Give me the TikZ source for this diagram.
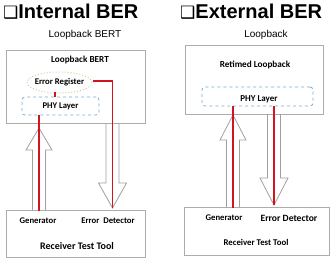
\documentclass[tikz,border=0pt]{standalone}
\usepackage{fontspec}
\setmainfont{Carlito}
\newfontfamily\headfont{Liberation Sans}
\newfontfamily\boxsym{DejaVu Sans}
\usepackage{tikz}
\usetikzlibrary{arrows.meta, positioning, shapes.geometric}

\definecolor{sigred}{RGB}{210,20,30}
\definecolor{phyblue}{RGB}{120,170,205}
\definecolor{regtan}{RGB}{215,200,160}

\begin{document}
\begin{tikzpicture}[
  x=1bp, y=-1bp,
  frame/.style={draw=gray!65, line width=0.8bp, inner sep=0pt},
  phy/.style={draw=phyblue, dashed, rounded corners=3bp, line width=0.8bp,
              inner sep=0pt},
  reg/.style={ellipse, draw=regtan, dotted, line width=1bp, inner sep=0pt,
              minimum width=65bp, minimum height=21bp},
  lbl/.style={font=\fontsize{8.7bp}{10bp}\selectfont\bfseries, inner sep=0pt},
  ttl/.style={font=\fontsize{9.2bp}{10bp}\selectfont\bfseries, inner sep=0pt},
  hdr/.style={font=\headfont\fontsize{10bp}{12bp}\selectfont, inner sep=0pt},
  big/.style={font=\headfont\fontsize{20bp}{22bp}\selectfont\bfseries,
              inner sep=0pt, anchor=base west},
  sig/.style={color=sigred, line width=1.9bp},
  fat/.style={draw=gray!75, line width=0.8bp, line join=miter},
]
  \useasboundingbox (0,0) rectangle (332,260);

  % Titles
  \node[big] (intttl) at (3,18)   {{\boxsym\fontsize{17bp}{20bp}\selectfont ❑}Internal BER};
  \node[big] (extttl) at (180,18) {{\boxsym\fontsize{17bp}{20bp}\selectfont ❑}External BER};

  % Internal BER
  \node[hdr] (inthdr) at (85,35) {Loopback BERT};
  \node[frame, minimum width=139bp, minimum height=73bp] (bert) at (75.5,86.5) {};
  \node[ttl] (bertttl) at (80,60) {Loopback BERT};
  \node[reg] (errreg) at (59.5,82.5) {};
  \node[lbl] at (errreg) {Error Register};
  \node[phy, minimum width=77bp, minimum height=18bp] (phyL) at (60.5,106) {};
  \node[lbl] at (phyL) {PHY Layer};
  \node[frame, minimum width=139bp, minimum height=47bp] (rttL) at (75.5,233.5) {};
  \node[lbl] (genL) at (38,221) {Generator};
  \node[lbl] (detL) at (108,221) {Error\ \ Detector};
  \node[ttl, font=\fontsize{10bp}{12bp}\selectfont\bfseries] (rttLttl) at (77,246)
        {Receiver Test Tool};

  \coordinate (gtipL) at (39,128);
  \coordinate (gtopL) at (39,115);
  \coordinate (gbotL) at (39,211);
  \coordinate (dtipL) at (112.5,208);
  \coordinate (regtop) at (55,92);
  \coordinate (regbot) at (55,97);
  \draw[fat] (32.5,210) -- (32.5,150) -- (26,150) -- (gtipL) -- (52,150)
             -- (45.5,150) -- (45.5,210);
  \draw[fat] (106,123) -- (106,183) -- (98.5,183) -- (dtipL) -- (126.5,183)
             -- (119,183) -- (119,123);

  \draw[sig] (gtopL) -- (gbotL);
  \draw[sig] ([yshift=1.5bp]errreg.east) -| (dtipL);
  \draw[sig, line width=1.5bp] (regtop) -- (regbot);

  % External BER
  \node[hdr] (exthdr) at (266,35) {Loopback};
  \node[frame, minimum width=138bp, minimum height=69bp] (loop) at (254,79.5) {};
  \node[ttl] (loopttl) at (255,65) {Retimed Loopback};
  \node[phy, minimum width=111bp, minimum height=19bp] (phyR) at (257.5,96.5) {};
  \node[lbl, font=\fontsize{9bp}{10bp}\selectfont\bfseries] at (259,99.5) {PHY Layer};
  \node[frame, minimum width=145bp, minimum height=48bp] (rttR) at (256.5,231) {};
  \node[lbl] (genR) at (224,218) {Generator};
  \node[lbl, font=\fontsize{9.6bp}{10bp}\selectfont\bfseries] (detR) at (289,218)
        {Error Detector};
  \node[lbl, font=\fontsize{8.8bp}{10bp}\selectfont\bfseries] (rttRttl) at (256,242)
        {Receiver Test Tool};

  \coordinate (gtipR) at (233,115);
  \coordinate (gtopR) at (233,106);
  \coordinate (gbotR) at (233,208);
  \coordinate (dtipR) at (274,205);
  \coordinate (dtopR) at (274,106);
  \draw[fat] (226.5,207) -- (226.5,140) -- (220,140) -- (gtipR) -- (246,140)
             -- (239.5,140) -- (239.5,207);
  \draw[fat] (267.5,114) -- (267.5,178) -- (260,178) -- (dtipR) -- (288,178)
             -- (280.5,178) -- (280.5,114);

  \draw[sig] (gtopR) -- (gbotR);
  \draw[sig] (dtopR) -- (dtipR);
\end{tikzpicture}
\end{document}
